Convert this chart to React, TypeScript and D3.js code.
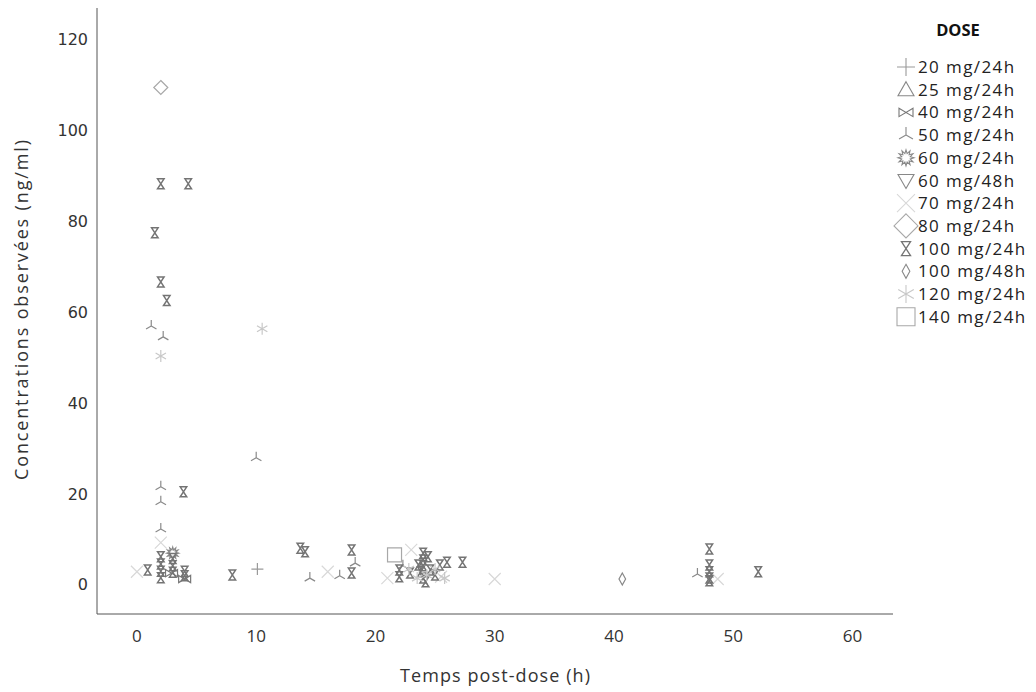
import React from "react";
import * as d3 from "d3";

// ---- data (time h, concentration ng/ml) ----
const doseLabels = [
  "20 mg/24h", "25 mg/24h", "40 mg/24h", "50 mg/24h", "60 mg/24h", "60 mg/48h",
  "70 mg/24h", "80 mg/24h", "100 mg/24h", "100 mg/48h", "120 mg/24h", "140 mg/24h",
];
const d20_24: [number, number][] = [[10.1, 3.5]];
const d25_24: [number, number][] = [];
const d40_24: [number, number][] = [[2.9, 2.6], [4.0, 1.3]];
const d50_24: [number, number][] = [
  [1.2, 57], [2.2, 54.6], [10, 28], [2, 21.6], [2, 18.3], [2, 12.3],
  [14.5, 1.5], [17, 2], [18.3, 4.8], [47, 2.4], [22.3, 4.2],
];
const d60_24: [number, number][] = [[3, 7]];
const d60_48: [number, number][] = [];
const d70_24: [number, number][] = [
  [0, 2.9], [2, 9.3], [16, 2.9], [21, 1.5], [23, 7.7], [30, 1.3], [48.7, 1.3], [25.5, 1.8],
];
const d80_24: [number, number][] = [[2, 109.5]];
const d100_24: [number, number][] = [
  [2, 88.3], [4.3, 88.3], [1.5, 77.5], [2, 66.7], [2.5, 62.6], [3.9, 20.5],
  [2, 6.2], [2, 4.6], [2, 3.0], [2, 1.6], [0.9, 3.3],
  [3, 5.8], [3, 4.2], [3, 2.8], [4, 2.0], [4, 3.0], [8, 2.2],
  [13.7, 8.1], [14.1, 7.3], [18, 7.7], [18, 2.6], [22, 3.3], [22, 1.8],
  [24, 7.0], [24, 5.5], [24, 4.2], [23.8, 2.9], [24, 1.5], [24.2, 0.7],
  [24.6, 3.3], [25, 2.2], [23.6, 4.4], [22.9, 2.6], [25.4, 4.4], [24.4, 6.2],
  [26, 5], [27.3, 5],
  [48, 7.9], [48, 4.4], [48, 2.9], [48, 1.5], [48, 0.9], [52.1, 2.9],
];
const d100_48: [number, number][] = [[40.7, 1.3]];
const d120_24: [number, number][] = [
  [2, 50.4], [10.5, 56.4], [22.8, 3.5], [25, 3.5], [24.3, 2.2], [23.5, 1.5], [25.8, 1.5],
];
const d140_24: [number, number][] = [[21.6, 6.6]];

const seriesData = [d20_24, d25_24, d40_24, d50_24, d60_24, d60_48, d70_24, d80_24, d100_24, d100_48, d120_24, d140_24];

const xTicks = [0, 10, 20, 30, 40, 50, 60];
const yTicks = [0, 20, 40, 60, 80, 100, 120];

type SymKind = "plus" | "triUp" | "bowtie" | "tristar" | "sun" | "triDown" | "x" | "diamond" | "hourglass" | "nDiamond" | "asterisk" | "square";
const kinds: SymKind[] = ["plus", "triUp", "bowtie", "tristar", "sun", "triDown", "x", "diamond", "hourglass", "nDiamond", "asterisk", "square"];
const colors = ["#9a9a9a", "#888", "#777", "#8a8a8a", "#888", "#888", "#d8d8d8", "#a8a8a8", "#747474", "#888", "#c8c8c8", "#a8a8a8"];
const plotSize = [6, 7, 6, 6, 6, 7, 6, 7, 5, 6, 6, 7];
const legSize = [9, 8, 7, 8, 8, 8, 9, 12, 7, 7, 9, 9];

function symPath(k: SymKind, s: number): string {
  switch (k) {
    case "plus": return `M${-s},0H${s}M0,${-s}V${s}`;
    case "triUp": return `M0,${-s}L${s},${s * 0.75}L${-s},${s * 0.75}Z`;
    case "triDown": return `M0,${s}L${s},${-s * 0.75}L${-s},${-s * 0.75}Z`;
    case "bowtie": return `M${-s},${-s * 0.6}L${s},${s * 0.6}L${s},${-s * 0.6}L${-s},${s * 0.6}Z`;
    case "tristar": return `M0,0V${-s}M0,0L${s * 0.87},${s * 0.5}M0,0L${-s * 0.87},${s * 0.5}`;
    case "x": return `M${-s},${-s}L${s},${s}M${-s},${s}L${s},${-s}`;
    case "diamond": return `M0,${-s}L${s},0L0,${s}L${-s},0Z`;
    case "nDiamond": return `M0,${-s}L${s * 0.55},0L0,${s}L${-s * 0.55},0Z`;
    case "square": return `M${-s},${-s}H${s}V${s}H${-s}Z`;
    case "hourglass": {
      const w = s * 0.65;
      return `M${-w},${-s}L${w},${-s}L${-w},${s}L${w},${s}Z`;
    }
    case "asterisk": {
      let p = "";
      for (const a of [90, 30, 150]) {
        const r = (a * Math.PI) / 180;
        const dx = Math.cos(r) * s, dy = Math.sin(r) * s;
        p += `M${-dx},${-dy}L${dx},${dy}`;
      }
      return p;
    }
    case "sun": {
      const n = 12;
      const pts: [number, number][] = [];
      for (let i = 0; i < n * 2; i++) {
        const r = i % 2 === 0 ? s : s * 0.55;
        const a = (i * Math.PI) / n - Math.PI / 2;
        pts.push([Math.cos(a) * r, Math.sin(a) * r]);
      }
      return d3.line()(pts)! + "Z";
    }
  }
  return "";
}

const W = 1036, H = 692;
const x = d3.scaleLinear().domain([-3.35, 63.4]).range([97, 893]);
const y = d3.scaleLinear().domain([-6.4, 127]).range([614, 8]);

export default function App() {
  const font = "'Open Sans', 'Segoe UI', sans-serif";
  return (
    <svg width={W} height={H} style={{ position: "absolute", left: 0, top: 0, background: "#fff" }}>
      {/* axes */}
      <line x1={97} x2={97} y1={8} y2={614} stroke="#555" strokeWidth={1} />
      <line x1={97} x2={893} y1={614} y2={614} stroke="#555" strokeWidth={1} />
      {yTicks.map((t) => (
        <text key={"y" + t} x={88} y={y(t) + 5.5} textAnchor="end" fontFamily="'DejaVu Sans', Verdana, sans-serif" fontSize={16} fill="#333">{t}</text>
      ))}
      {xTicks.map((t) => (
        <text key={"x" + t} x={x(t)} y={642} textAnchor="middle" fontFamily="'Liberation Sans Narrow', 'Open Sans', sans-serif" fontSize={17} fill="#333">{t}</text>
      ))}
      <text x={495} y={682} textAnchor="middle" fontFamily={font} fontSize={18} fill="#333" textLength={190} lengthAdjust="spacing">Temps post-dose (h)</text>
      <text transform={`translate(28,310) rotate(-90)`} textAnchor="middle" fontFamily={font} fontSize={18} fill="#333" textLength={340} lengthAdjust="spacing">Concentrations observées (ng/ml)</text>

      {/* points */}
      {seriesData.map((pts, si) => (
        <g key={"s" + si}>
          {pts.map((p, i) => (
            <path key={i} d={symPath(kinds[si], plotSize[si])} transform={`translate(${x(p[0])},${y(p[1])})`}
              fill="none" stroke={colors[si]} strokeWidth={kinds[si] === "hourglass" ? 1.5 : 1.2} />
          ))}
        </g>
      ))}

      {/* legend */}
      <text x={958} y={36} textAnchor="middle" fontFamily={font} fontWeight="bold" fontSize={16.5} fill="#111">DOSE</text>
      {doseLabels.map((lab, i) => {
        const cy = 67 + i * 22.7;
        return (
          <g key={"l" + i}>
            <path d={symPath(kinds[i], legSize[i])} transform={`translate(906,${cy})`} fill="none" stroke={colors[i]} strokeWidth={kinds[i] === "hourglass" ? 1.3 : 1.1} />
            <text x={918} y={cy + 6} fontFamily={font} fontSize={17} letterSpacing={1.4} fill="#222">{lab}</text>
          </g>
        );
      })}
    </svg>
  );
}
